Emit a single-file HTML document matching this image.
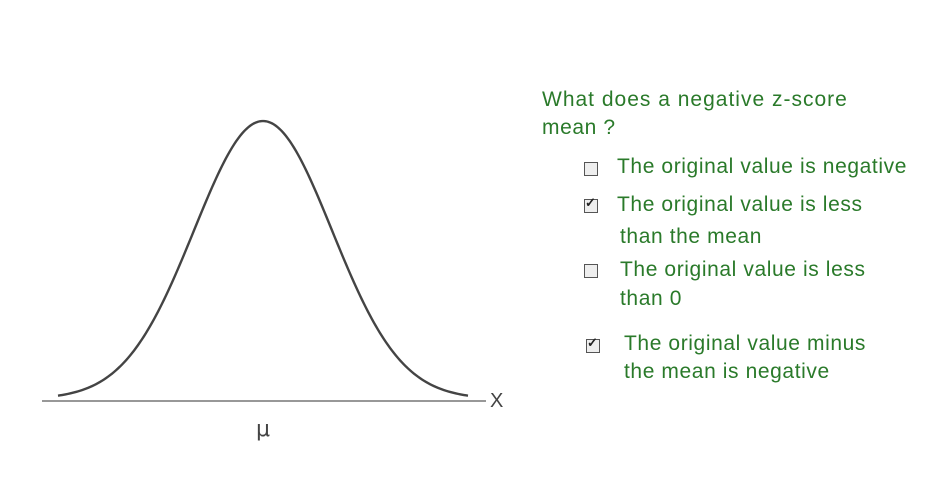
<!DOCTYPE html>
<html>
<head>
<meta charset="utf-8">
<style>
  html,body{margin:0;padding:0;background:#fff;}
  body{width:940px;height:486px;position:relative;overflow:hidden;font-family:"Liberation Sans",sans-serif;}
  .t{position:absolute;color:#2a7a2a;font-size:21px;white-space:nowrap;letter-spacing:0.6px;}
  .cb{position:absolute;width:12px;height:12px;border:1.5px solid #555;background:#eee;}
  .cb.on::after{content:"✓";position:absolute;left:0;top:-5px;font-size:13px;color:#222;font-weight:bold;}
</style>
</head>
<body>
<svg width="940" height="486" style="position:absolute;left:0;top:0">
  <line x1="42" y1="401" x2="486" y2="401" stroke="#777" stroke-width="1.6"/>
  <text x="490" y="407" font-size="20" fill="#444" font-family="Liberation Sans, sans-serif">X</text>
  <text x="256" y="436" font-size="22" fill="#444" font-family="DejaVu Sans, sans-serif">μ</text>
  <path id="curve" fill="none" stroke="#444" stroke-width="2.4"/>
</svg>
<script>
const mean = [263];
const sigma = [69];
const peakY = [121];
const baseY = 399;
const xRange = [58, 468];
let d = "";
for (let x = xRange[0]; x <= xRange[1]; x += 2) {
  const z = (x - mean[0]) / sigma[0];
  const y = baseY - (baseY - peakY[0]) * Math.exp(-z * z / 2);
  d += (d ? " L" : "M") + x + " " + y.toFixed(2);
}
document.getElementById('curve').setAttribute('d', d);
</script>

<div class="t" style="left:542px;top:88px;letter-spacing:1px;">What does a negative z-score</div>
<div class="t" style="left:542px;top:116px;">mean ?</div>

<div class="cb" style="left:584px;top:162px;"></div>
<div class="t" style="left:617px;top:155px;">The original value is negative</div>

<div class="cb on" style="left:584px;top:199px;"></div>
<div class="t" style="left:617px;top:193px;">The original value is less</div>
<div class="t" style="left:620px;top:225px;">than the mean</div>

<div class="cb" style="left:584px;top:264px;"></div>
<div class="t" style="left:620px;top:258px;">The original value is less</div>
<div class="t" style="left:620px;top:287px;">than 0</div>

<div class="cb on" style="left:586px;top:339px;"></div>
<div class="t" style="left:624px;top:332px;">The original value minus</div>
<div class="t" style="left:624px;top:360px;">the mean is negative</div>
</body>
</html>
